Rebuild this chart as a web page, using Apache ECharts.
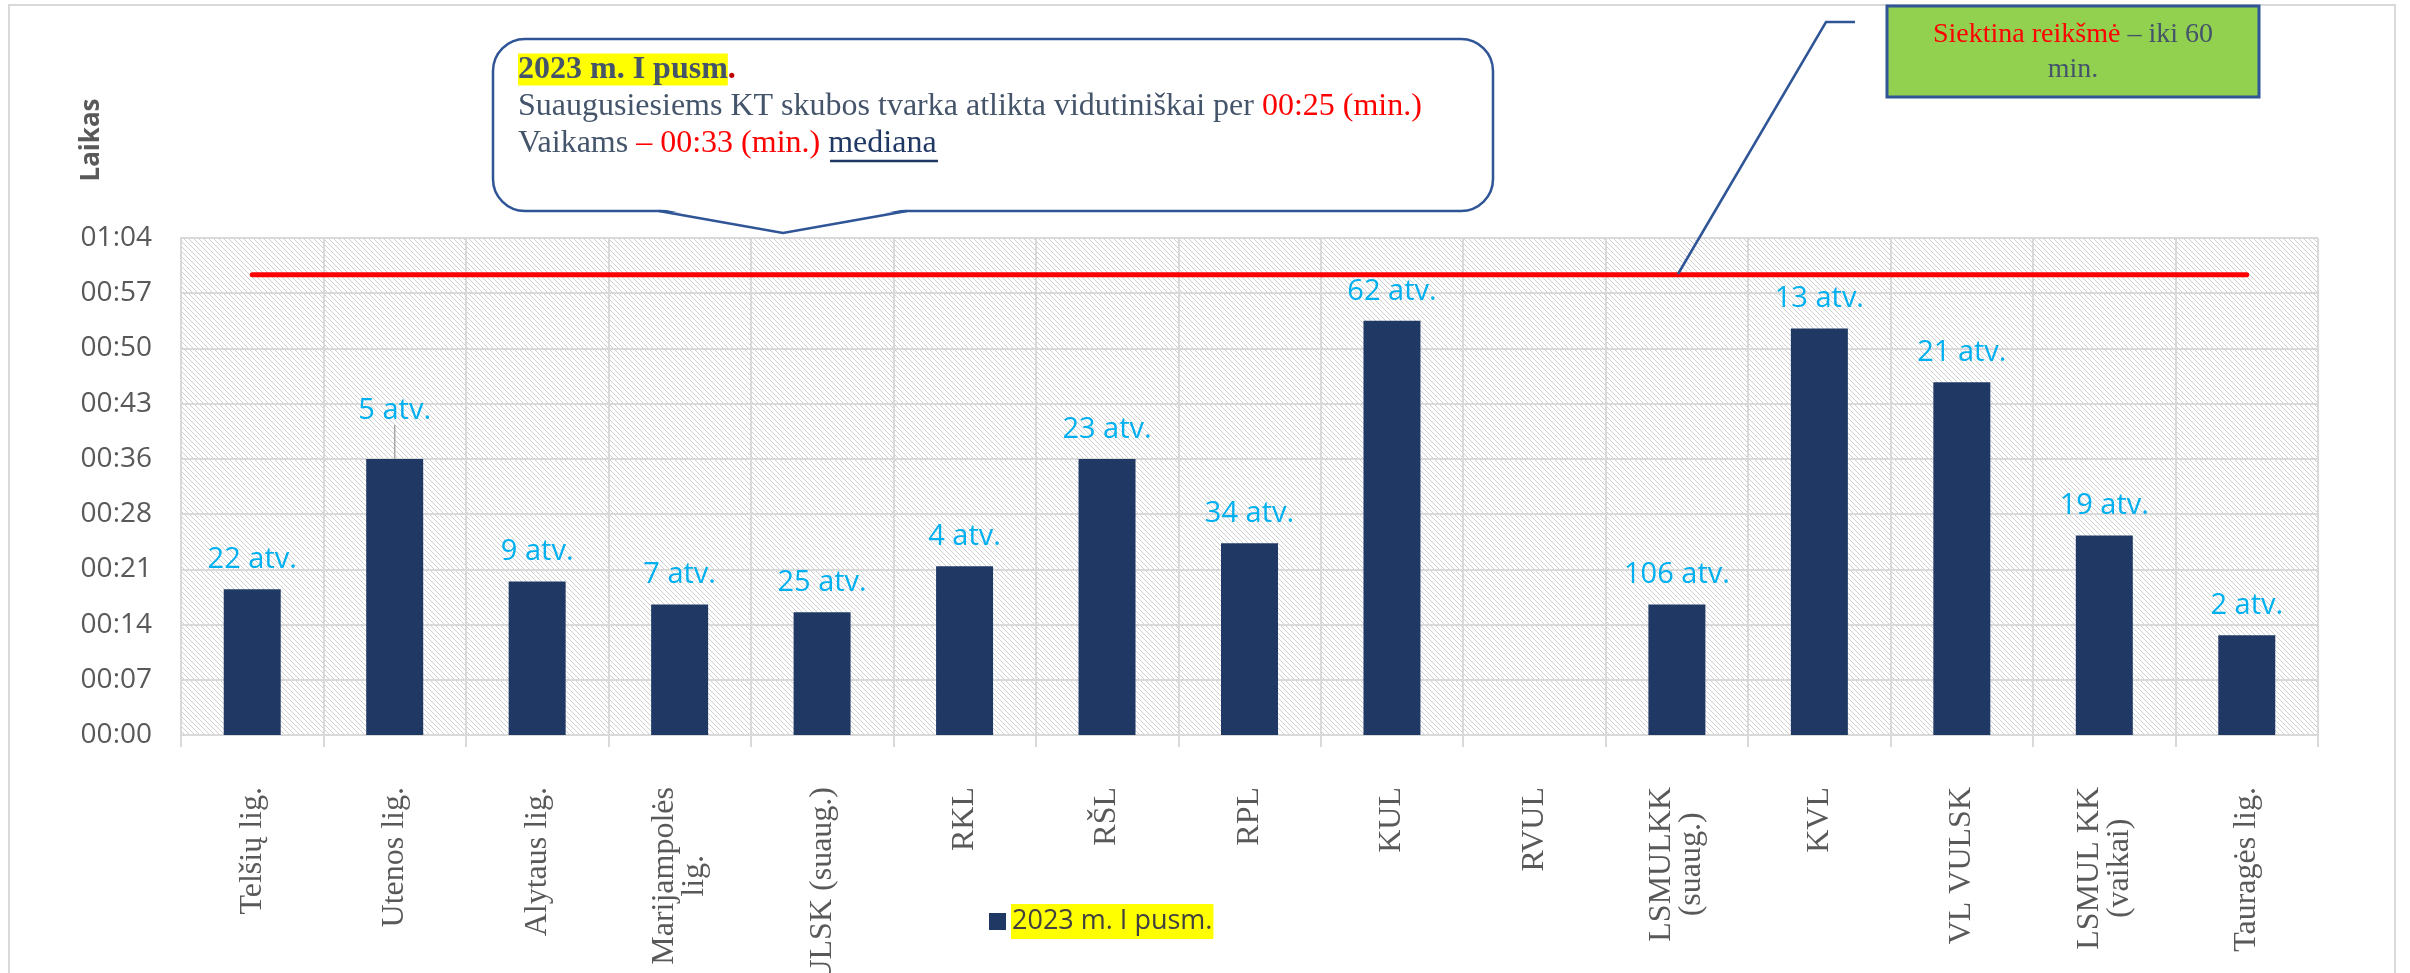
<!DOCTYPE html>
<html>
<head>
<meta charset="utf-8">
<script src="https://cdn.jsdelivr.net/npm/echarts@6/dist/echarts.min.js"></script>
<style>
  html, body { margin: 0; padding: 0; background: #fff; }
  #chart { width: 2410px; height: 973px; }
</style>
</head>
<body>
<div id="chart"></div>
<script>
// ligoninės / skyriai
var CATEGORIES = ['Telšių lig.', 'Utenos lig.', 'Alytaus lig.', 'Marijampolės\nlig.', 'VULSK (suaug.)',
    'RKL', 'RŠL', 'RPL', 'KUL', 'RVUL', 'LSMULKK\n(suaug.)', 'KVL', 'VL VULSK', 'LSMUL KK\n(vaikai)', 'Tauragės lig.'];
// mediana, minutėmis
var MINUTES = [19, 36, 20, 17, 16, 22, 36, 25, 54, null, 17, 53, 46, 26, 13];
// atvejų skaičius
var CASES = [22, 5, 9, 7, 25, 4, 23, 34, 62, null, 106, 13, 21, 19, 2];
var TARGET = 60;
var SERIES_NAME = '2023 m. I pusm.';
// Excel laiko ašis: 0.005 d. = 7.2 min
var Y_MIN = 0, Y_MAX = 64.8, Y_STEP = 7.2;
// etiketė, kuri pakelta su rodykle (Utenos)
var RAISED_LABEL = 1;

function pad2(n) {
    return (n < 10 ? '0' : '') + n;
}

function minToClock(v) {
    var m = Math.floor(v + 1e-6);
    return pad2(Math.floor(m / 60)) + ':' + pad2(m % 60);
}

function makeHatch() {
    var s = 5;
    var c = document.createElement('canvas');
    c.width = s;
    c.height = s;
    var ctx = c.getContext('2d');
    ctx.fillStyle = '#ffffff';
    ctx.fillRect(0, 0, s, s);
    ctx.strokeStyle = '#cfcfcf';
    ctx.lineWidth = 1;
    for (var k = -s; k <= s; k += s) {
        ctx.beginPath();
        ctx.moveTo(k, 0);
        ctx.lineTo(k + s, s);
        ctx.stroke();
    }
    return c;
}

var targetLine = CATEGORIES.map(function() { return TARGET; });
var barData = MINUTES.map(function(v, i) {
    var item = { value: v };
    if (i === RAISED_LABEL) {
        item.labelLine = { show: true, lineStyle: { color: '#a6a6a6', width: 1.5 } };
    }
    return item;
});

var serif = 'Liberation Serif';
var slate = '#44546A';
var frameBlue = '#2F5597';

var chart = echarts.init(document.getElementById('chart'));
var option = {
    backgroundColor: '#ffffff',
    animation: false,
    grid: {
        left: 181, right: 92, top: 238, bottom: 238,
        containLabel: false,
        outerBoundsMode: 'none',
        show: true,
        borderWidth: 0,
        backgroundColor: { image: makeHatch(), repeat: 'repeat' }
    },
    legend: {
        data: [SERIES_NAME],
        left: 984,
        top: 899,
        icon: 'rect',
        itemWidth: 17,
        itemHeight: 17,
        itemGap: 10,
        textStyle: {
            fontFamily: 'Open Sans',
            fontSize: 27,
            color: '#404040',
            backgroundColor: '#FFFF00',
            padding: [4, 1, 4, 1]
        }
    },
    xAxis: {
        type: 'category',
        data: CATEGORIES,
        axisLine: { lineStyle: { color: '#d9d9d9', width: 2 } },
        axisTick: { show: true, length: 12, lineStyle: { color: '#d9d9d9', width: 2 } },
        splitLine: { show: true, interval: 0, lineStyle: { color: '#d9d9d9', width: 2 } },
        axisLabel: {
            interval: 0,
            rotate: 90,
            margin: 52,
            formatter: function(v) {
                return v.split('\n').map(function(s) { return '{c|' + s + '}'; }).join('\n');
            },
            rich: {
                c: {
                    align: 'center',
                    fontFamily: serif,
                    fontSize: 32,
                    lineHeight: 30,
                    color: '#595959'
                }
            }
        }
    },
    yAxis: {
        type: 'value',
        min: Y_MIN,
        max: Y_MAX,
        interval: Y_STEP,
        axisLine: { show: true, lineStyle: { color: '#d9d9d9', width: 2 } },
        axisTick: { show: false },
        splitLine: { lineStyle: { color: '#d9d9d9', width: 2 } },
        axisLabel: {
            margin: 29,
            fontFamily: 'Open Sans',
            fontSize: 28,
            color: '#595959',
            formatter: minToClock
        }
    },
    series: [
        {
            name: SERIES_NAME,
            type: 'bar',
            data: barData,
            barWidth: '40%',
            itemStyle: { color: '#203864' },
            label: {
                show: true,
                position: 'top',
                distance: 15,
                fontFamily: 'Open Sans',
                fontSize: 29,
                color: '#00B0F0',
                formatter: function(p) {
                    return CASES[p.dataIndex] == null ? '' : CASES[p.dataIndex] + ' atv.';
                }
            },
            labelLayout: function(p) {
                return p.dataIndex === RAISED_LABEL ? { dy: -19 } : {};
            },
            labelLine: { show: false }
        },
        {
            name: 'Siektina reikšmė',
            type: 'line',
            data: targetLine,
            symbol: 'none',
            lineStyle: { color: '#FF0000', width: 5, cap: 'round' },
            z: 5
        }
    ],
    graphic: [
        // išorinis rėmelis
        {
            type: 'rect', silent: true, z: -1,
            shape: { x: 9, y: 5, width: 2386, height: 1010 },
            style: { fill: null, stroke: '#d9d9d9', lineWidth: 2 }
        },
        {
            type: 'text', silent: true,
            x: 92, y: 140, rotation: Math.PI / 2,
            style: {
                text: 'Laikas',
                fontFamily: 'Open Sans',
                fontWeight: 'bold',
                fontSize: 26,
                fill: '#595959',
                align: 'center',
                verticalAlign: 'middle'
            }
        },
        // komentaro debesėlis
        {
            type: 'rect', silent: true, z: 10,
            shape: { x: 493, y: 39, width: 1000, height: 172, r: 32 },
            style: { fill: '#ffffff', stroke: frameBlue, lineWidth: 2.5 }
        },
        {
            type: 'polygon', silent: true, z: 11,
            shape: { points: [[661, 209], [906, 209], [783, 232]] },
            style: { fill: '#ffffff', stroke: null }
        },
        {
            type: 'polyline', silent: true, z: 12,
            shape: { points: [[659, 211], [783, 233], [907, 211]] },
            style: { stroke: frameBlue, lineWidth: 2.5, fill: null }
        },
        {
            type: 'text', silent: true, z: 13,
            x: 518, y: 51,
            style: {
                text: '{hl|2023 m. I pusm}{rdb|.}\n' +
                    'Suaugusiesiems KT skubos tvarka atlikta vidutiniškai per {rd|00:25 (min.)}\n' +
                    'Vaikams {rd|– 00:33 (min.)} {ul|mediana}',
                fontFamily: serif,
                fontSize: 32,
                lineHeight: 37,
                fill: slate,
                align: 'left',
                verticalAlign: 'top',
                rich: {
                    hl: { fontFamily: serif, fontSize: 32, fontWeight: 'bold', lineHeight: 37,
                          fill: slate, backgroundColor: '#FFFF00' },
                    rdb: { fontFamily: serif, fontSize: 32, fontWeight: 'bold', lineHeight: 37, fill: '#C00000' },
                    rd: { fontFamily: serif, fontSize: 32, lineHeight: 37, fill: '#FF0000' },
                    ul: { fontFamily: serif, fontSize: 32, lineHeight: 37, fill: '#203864' }
                }
            }
        },
        {
            type: 'line', silent: true, z: 13,
            shape: { x1: 830, y1: 161, x2: 938, y2: 161 },
            style: { stroke: '#203864', lineWidth: 2.5 }
        },
        // siektinos reikšmės žyma
        {
            type: 'polyline', silent: true, z: 10,
            shape: { points: [[1855, 22], [1826, 22], [1678, 274]] },
            style: { stroke: frameBlue, lineWidth: 2.5, fill: null }
        },
        {
            type: 'rect', silent: true, z: 10,
            shape: { x: 1887, y: 6, width: 372, height: 91 },
            style: { fill: '#92D050', stroke: frameBlue, lineWidth: 3 }
        },
        {
            type: 'text', silent: true, z: 11,
            x: 2073, y: 52,
            style: {
                text: '{r|Siektina reikšmė}{g| – iki 60}\n{g|min.}',
                align: 'center',
                verticalAlign: 'middle',
                rich: {
                    r: { fontFamily: serif, fontSize: 28, lineHeight: 35, fill: '#FF0000' },
                    g: { fontFamily: serif, fontSize: 28, lineHeight: 35, fill: slate }
                }
            }
        }
    ]
};
chart.setOption(option);
</script>
</body>
</html>
